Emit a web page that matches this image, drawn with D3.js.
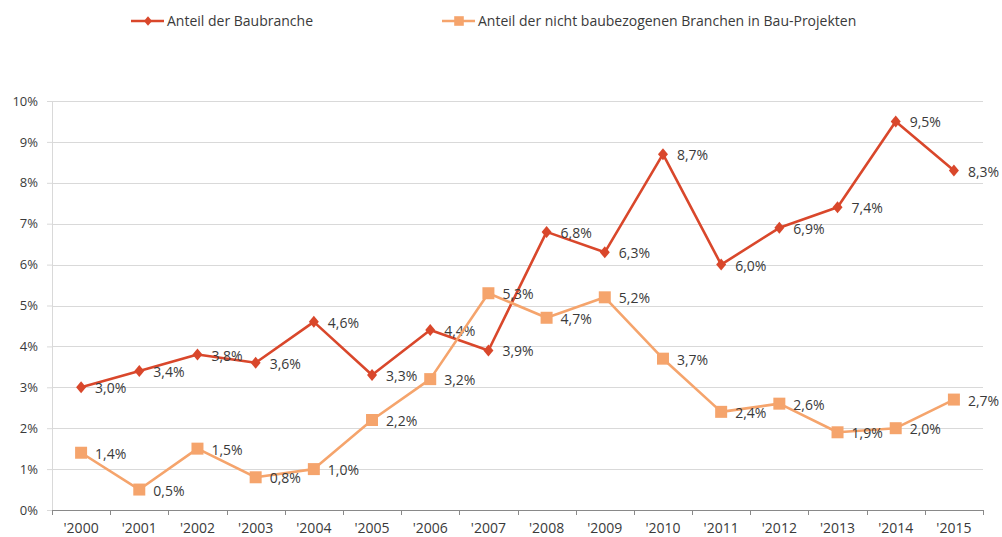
<!DOCTYPE html>
<html>
<head>
<meta charset="utf-8">
<script src="https://cdn.jsdelivr.net/npm/d3@7"></script>
<style>
  body { margin: 0; background: #fff; }
  text { font-family: "Open Sans", "Noto Sans", sans-serif; fill: #3a3a3a; }
</style>
</head>
<body>
<div id="chart"></div>
<script>
// Chart data
var years = ["'2000", "'2001", "'2002", "'2003", "'2004", "'2005", "'2006", "'2007",
  "'2008", "'2009", "'2010", "'2011", "'2012", "'2013", "'2014", "'2015"];
var bauValues = [3.0, 3.4, 3.8, 3.6, 4.6, 3.3, 4.4, 3.9, 6.8, 6.3, 8.7, 6.0, 6.9, 7.4, 9.5, 8.3];
var nichtBauValues = [1.4, 0.5, 1.5, 0.8, 1.0, 2.2, 3.2, 5.3, 4.7, 5.2, 3.7, 2.4, 2.6, 1.9, 2.0, 2.7];
var yTicks = [0, 1, 2, 3, 4, 5, 6, 7, 8, 9, 10];
var seriesNames = ["Anteil der Baubranche", "Anteil der nicht baubezogenen Branchen in Bau-Projekten"];

var svgWidth = 1002;
var svgHeight = 537;

var margin = { top: 101, right: 19, bottom: 27, left: 52 };
var chartWidth = svgWidth - margin.left - margin.right;
var chartHeight = svgHeight - margin.top - margin.bottom;

var svg = d3.select("#chart")
  .append("svg")
  .attr("width", svgWidth)
  .attr("height", svgHeight);

var chartGroup = svg.append("g")
  .attr("transform", `translate(${margin.left}, ${margin.top})`);

// scales
var xBand = d3.scaleBand()
  .domain(years)
  .range([0, chartWidth]);

var yScale = d3.scaleLinear()
  .domain([0, 10])
  .range([chartHeight, 0]);

var fmt = function(v) { return d3.format(".1f")(v).replace(".", ",") + "%"; };

// gridlines
chartGroup.append("g")
  .selectAll("line")
  .data(yTicks.slice(1))
  .enter()
  .append("line")
  .attr("x1", 0)
  .attr("x2", chartWidth)
  .attr("y1", d => Math.round(yScale(d)) + 0.5)
  .attr("y2", d => Math.round(yScale(d)) + 0.5)
  .attr("stroke", "#d9d9d9")
  .attr("stroke-width", 1);

// left axis
var leftAxis = d3.axisLeft(yScale)
  .tickValues(yTicks)
  .tickFormat(d => d + "%")
  .tickSize(5)
  .tickPadding(9);

var yAxis = chartGroup.append("g").call(leftAxis);
yAxis.select(".domain").attr("stroke", "#d9d9d9").attr("d", `M0.5,0V${chartHeight}`);
yAxis.selectAll(".tick line").attr("stroke", "#d9d9d9");
yAxis.selectAll("text").style("font-size", "13px").attr("fill", "#3a3a3a");

// bottom axis
var bottomAxis = d3.axisBottom(xBand).tickSize(0).tickPadding(13);
var xAxis = chartGroup.append("g")
  .attr("transform", `translate(0, ${chartHeight})`)
  .call(bottomAxis);
xAxis.select(".domain").attr("stroke", "#898989");
xAxis.selectAll("text").style("font-size", "14px").attr("fill", "#3a3a3a");

// tick marks at band edges
var edges = years.map(d => xBand(d)).concat([chartWidth]);
xAxis.selectAll(".edge")
  .data(edges)
  .enter()
  .append("line")
  .attr("x1", d => Math.round(d) + 0.5)
  .attr("x2", d => Math.round(d) + 0.5)
  .attr("y1", 0)
  .attr("y2", 5)
  .attr("stroke", "#898989");

var cx = d => xBand(d) + xBand.bandwidth() / 2;

function drawSeries(values, color, marker) {
  var pts = values.map((v, i) => ({ year: years[i], value: v }));
  var line = d3.line()
    .x(d => cx(d.year))
    .y(d => yScale(d.value));

  chartGroup.append("path")
    .datum(pts)
    .attr("d", line)
    .attr("fill", "none")
    .attr("stroke", color)
    .attr("stroke-width", 2.6)
    .attr("stroke-linejoin", "round");

  chartGroup.append("g")
    .selectAll("path")
    .data(pts)
    .enter()
    .append("path")
    .attr("transform", d => `translate(${cx(d.year)}, ${yScale(d.value)})`)
    .attr("d", marker)
    .attr("fill", color);

  chartGroup.append("g")
    .selectAll("text")
    .data(pts)
    .enter()
    .append("text")
    .attr("x", d => cx(d.year) + 14)
    .attr("y", d => yScale(d.value) + 6)
    .style("font-size", "14px")
    .text(d => fmt(d.value));
}

var diamond = "M0,-6L5,0L0,6L-5,0Z";
var square = "M-6,-6H6V6H-6Z";

drawSeries(bauValues, "#d9472b", diamond);
drawSeries(nichtBauValues, "#f5a46c", square);

// legend
var legend = svg.append("g");
var legendItems = [
  { name: seriesNames[0], color: "#d9472b", marker: diamond, x: 131 },
  { name: seriesNames[1], color: "#f5a46c", marker: square, x: 442 }
];
legendItems.forEach(function(item) {
  var g = legend.append("g").attr("transform", `translate(${item.x}, 21)`);
  g.append("line")
    .attr("x1", 0).attr("x2", 33)
    .attr("y1", 0).attr("y2", 0)
    .attr("stroke", item.color)
    .attr("stroke-width", 2.6);
  g.append("path")
    .attr("transform", "translate(17,0) scale(0.8)")
    .attr("d", item.marker)
    .attr("fill", item.color);
  g.append("text")
    .attr("x", 36)
    .attr("y", 5)
    .style("font-size", "14px")
    .text(item.name);
});
</script>
</body>
</html>
